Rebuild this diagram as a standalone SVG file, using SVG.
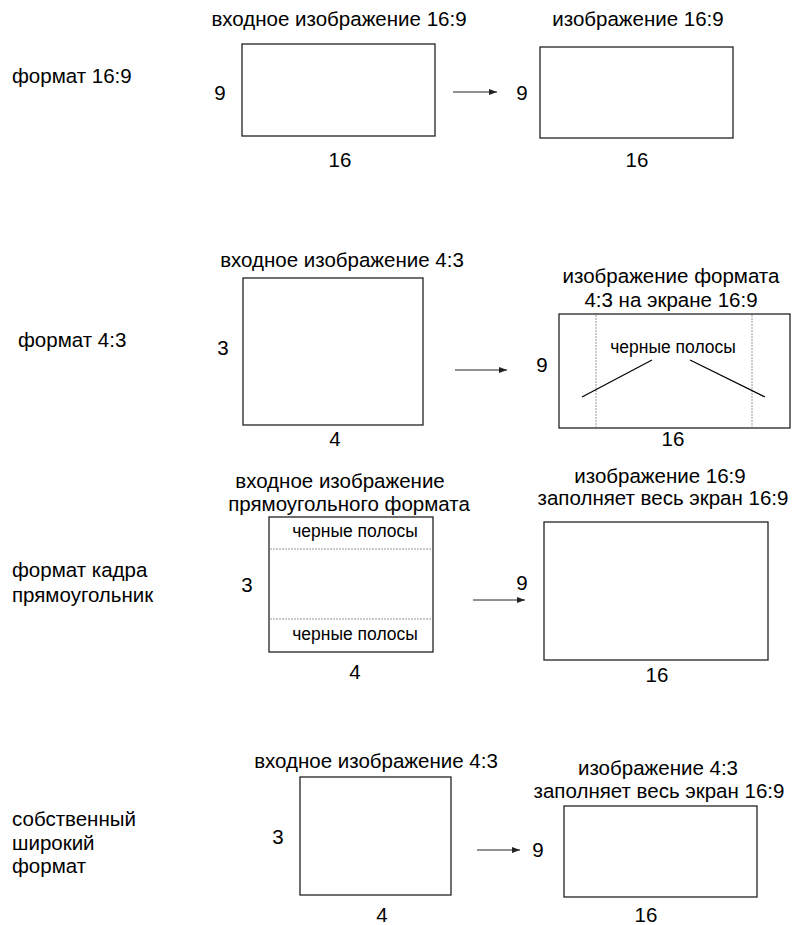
<svg xmlns="http://www.w3.org/2000/svg" width="794" height="925" viewBox="0 0 794 925">
<defs>
<style>
text{font-family:"Liberation Sans",Arial,sans-serif;font-size:20.5px;fill:#000}
.c{text-anchor:middle}
.s{font-size:17.5px}
.box{fill:#fff;stroke:#222;stroke-width:1.3}
.dash{stroke:#999;stroke-width:1;stroke-dasharray:2,1;fill:none}
.conn line{stroke:#222;stroke-width:1}
.lead{stroke:#000;stroke-width:1.2}
</style>
<marker id="ah" viewBox="0 0 8 6" refX="8" refY="3" markerWidth="8" markerHeight="6" markerUnits="userSpaceOnUse" orient="auto">
<path d="M0,0 L8,3 L0,6 Z" fill="#222"/>
</marker>
</defs>
<rect width="794" height="925" fill="#fff"/>

<g id="row-labels">
<text x="12" y="83">формат 16:9</text>
<text x="18" y="347">формат 4:3</text>
<text x="12" y="577">формат кадра</text>
<text x="12" y="602">прямоугольник</text>
<text x="12" y="826">собственный</text>
<text x="12" y="850">широкий</text>
<text x="12" y="873">формат</text>
</g>

<g id="in169">
<text class="c" x="339" y="26">входное изображение 16:9</text>
<rect class="box" x="242" y="44" width="193" height="92"/>
<text class="c" x="220" y="100">9</text>
<text class="c" x="340" y="167">16</text>
</g>
<g id="out169">
<text class="c" x="638" y="26">изображение 16:9</text>
<rect class="box" x="540" y="47" width="193" height="91"/>
<text class="c" x="522" y="100">9</text>
<text class="c" x="637" y="167">16</text>
</g>

<g id="in43">
<text class="c" x="342" y="267">входное изображение 4:3</text>
<rect class="box" x="243" y="278" width="180" height="147"/>
<text class="c" x="223" y="355">3</text>
<text class="c" x="335" y="446">4</text>
</g>
<g id="out43">
<text class="c" x="671" y="283">изображение формата</text>
<text class="c" x="671" y="307">4:3 на экране 16:9</text>
<rect class="box" x="559" y="314" width="231" height="114"/>
<line class="dash" x1="596" y1="315" x2="596" y2="427"/>
<line class="dash" x1="752" y1="315" x2="752" y2="427"/>
<text class="c s" x="673" y="353">черные полосы</text>
<line class="lead" x1="582" y1="397" x2="652" y2="360"/>
<line class="lead" x1="690" y1="360" x2="765" y2="397"/>
<text class="c" x="542" y="372">9</text>
<text class="c" x="673" y="446">16</text>
</g>

<g id="inLetterbox">
<text class="c" x="340" y="488">входное изображение</text>
<text class="c" x="349" y="511">прямоугольного формата</text>
<rect class="box" x="269" y="517" width="164" height="135"/>
<line class="dash" x1="270" y1="549" x2="432" y2="549"/>
<line class="dash" x1="270" y1="619" x2="432" y2="619"/>
<text class="c s" x="355" y="537">черные полосы</text>
<text class="c s" x="355" y="640">черные полосы</text>
<text class="c" x="247" y="592">3</text>
<text class="c" x="355" y="679">4</text>
</g>
<g id="outLetterbox">
<text class="c" x="660" y="483">изображение 16:9</text>
<text class="c" x="663" y="505">заполняет весь экран 16:9</text>
<rect class="box" x="544" y="522" width="224" height="138"/>
<text class="c" x="522" y="590">9</text>
<text class="c" x="657" y="682">16</text>
</g>

<g id="inWide">
<text class="c" x="376" y="768">входное изображение 4:3</text>
<rect class="box" x="300" y="777" width="151" height="118"/>
<text class="c" x="278" y="844">3</text>
<text class="c" x="382" y="922">4</text>
</g>
<g id="outWide">
<text class="c" x="658" y="775">изображение 4:3</text>
<text class="c" x="659" y="798">заполняет весь экран 16:9</text>
<rect class="box" x="564" y="806" width="193" height="91"/>
<text class="c" x="538" y="857">9</text>
<text class="c" x="646" y="922">16</text>
</g>

<g id="connectors" class="conn">
<line x1="453" y1="92" x2="497" y2="92" marker-end="url(#ah)"/>
<line x1="455" y1="370" x2="507" y2="370" marker-end="url(#ah)"/>
<line x1="473" y1="600" x2="525" y2="600" marker-end="url(#ah)"/>
<line x1="477" y1="850" x2="520" y2="850" marker-end="url(#ah)"/>
</g>
</svg>
